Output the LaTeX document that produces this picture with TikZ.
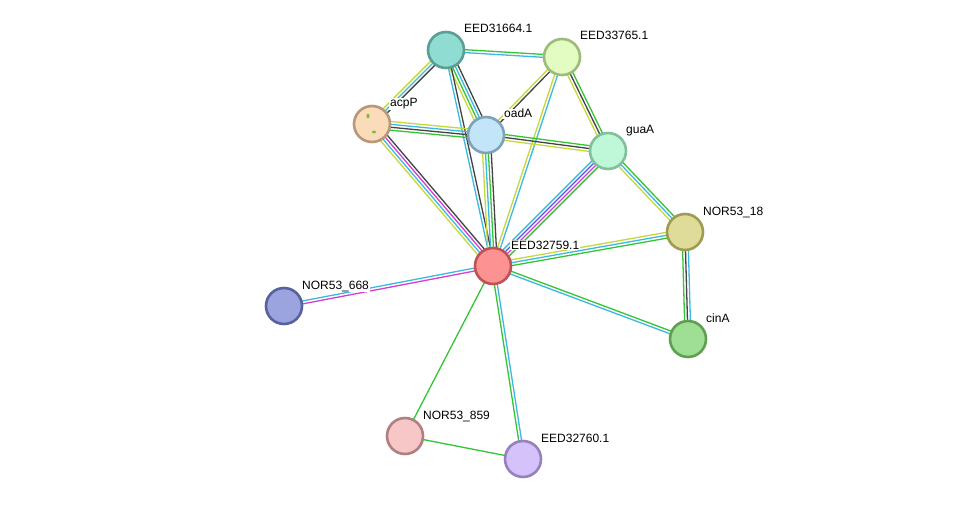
\documentclass[tikz,border=0pt]{standalone}
\usepackage{fontspec}
\setmainfont{Liberation Sans}
\usetikzlibrary{calc}
\pgfdeclarelayer{edges}
\pgfsetlayers{edges,main}
\definecolor{eg}{HTML}{35C435}
\definecolor{ec}{HTML}{3CB9E1}
\definecolor{ek}{HTML}{444444}
\definecolor{ey}{HTML}{C6D93A}
\definecolor{em}{HTML}{D63CD6}
\definecolor{eb}{HTML}{4A5BE0}
\definecolor{fa}{HTML}{8FDCD2}\definecolor{ba}{HTML}{5A9E94}
\definecolor{fb}{HTML}{E2FCC2}\definecolor{bb}{HTML}{9DBB7A}
\definecolor{fc}{HTML}{FADCBA}\definecolor{bc}{HTML}{B8977A}
\definecolor{fd}{HTML}{C2E5FA}\definecolor{bd}{HTML}{7FA2B8}
\definecolor{fe}{HTML}{BEF8D9}\definecolor{be}{HTML}{80C09A}
\definecolor{ff}{HTML}{DEDC98}\definecolor{bf}{HTML}{9E9C52}
\definecolor{fg}{HTML}{FC9292}\definecolor{bg}{HTML}{C05252}
\definecolor{fh}{HTML}{9CA4E0}\definecolor{bh}{HTML}{58609E}
\definecolor{fi}{HTML}{9FDE95}\definecolor{bi}{HTML}{5EA052}
\definecolor{fj}{HTML}{F7C7C7}\definecolor{bj}{HTML}{B08080}
\definecolor{fk}{HTML}{D6C2FA}\definecolor{bk}{HTML}{9580C0}
\definecolor{speck}{HTML}{7FBF3F}
\newcommand\stredge[3]{%
  \foreach \cc [count=\ii] in {#3} {\global\let\nedge\ii}%
  \foreach \cc [count=\ii] in {#3} {%
    \pgfmathsetmacro\oo{(\ii-(\nedge+1)/2)*2.9}%
    \draw[draw=\cc, line width=1.3pt] ($(#1)!\oo pt!90:(#2)$) -- ($(#2)!\oo pt!-90:(#1)$);
  }%
}
\tikzset{
  prot/.style={circle, minimum size=36pt, inner sep=0pt, line width=2.6pt},
  lbl/.style={anchor=base west, inner xsep=0.8pt, inner ysep=0.6pt, fill=white,
    font=\fontsize{12}{14}\selectfont, text=black},
}
\newcommand\protnode[6]{%
  \node[prot, fill=#5, draw=#6] (#1) at (#2,#3) {};
  \node[lbl] (#1l) at (#2+17.2,#3-17) {#4};
}
\begin{document}
\begin{tikzpicture}[x=1pt,y=-1pt]
\useasboundingbox (0,0) rectangle (976,505);
\protnode{n1}{446}{50}{EED31664.1}{fa}{ba}
\protnode{n2}{562}{57}{EED33765.1}{fb}{bb}
\protnode{n3}{372}{124}{acpP}{fc}{bc}
\protnode{n4}{486}{135}{oadA}{fd}{bd}
\protnode{n5}{608}{151}{guaA}{fe}{be}
\protnode{n6}{685}{232}{NOR53\_18}{ff}{bf}
\protnode{n7}{493}{266}{EED32759.1}{fg}{bg}
\protnode{n8}{284}{306}{NOR53\_668}{fh}{bh}
\protnode{n9}{688}{339}{cinA}{fi}{bi}
\protnode{n10}{405}{436}{NOR53\_859}{fj}{bj}
\protnode{n11}{523}{459}{EED32760.1}{fk}{bk}
% small structure marks in acpP
\fill[speck] (368,116) ellipse (1.6pt and 2.4pt);
\fill[speck] (374,132) ellipse (2.2pt and 1.4pt);
\begin{pgfonlayer}{edges}
\fill[white] (0,0) rectangle (976,505);
\stredge{n1}{n2}{ec,eg}
\stredge{n1}{n3}{ey,ec,ek}
\stredge{n1}{n4}{ey,eg,ec,ek}
\stredge{n1}{n7}{ec,ek}
\stredge{n2}{n4}{ey,ek}
\stredge{n2}{n7}{ey,ec}
\stredge{n2}{n5}{ey,ek,eg}
\stredge{n3}{n4}{eg,ek,ec,ey}
\stredge{n4}{n5}{ey,ek,eg}
\stredge{n3}{n7}{ey,ec,em,ek}
\stredge{n4}{n7}{ey,ec,eg,ek}
\stredge{n5}{n7}{ec,eb,em,eg}
\stredge{n5}{n6}{ey,ec,eg}
\stredge{n6}{n7}{ey,ec,eg}
\stredge{n6}{n9}{eg,ek,ec}
\stredge{n7}{n9}{ec,eg}
\stredge{n7}{n8}{ec,em}
\stredge{n7}{n10}{eg}
\stredge{n7}{n11}{eg,ec}
\stredge{n10}{n11}{eg}
\end{pgfonlayer}
\end{tikzpicture}
\end{document}
